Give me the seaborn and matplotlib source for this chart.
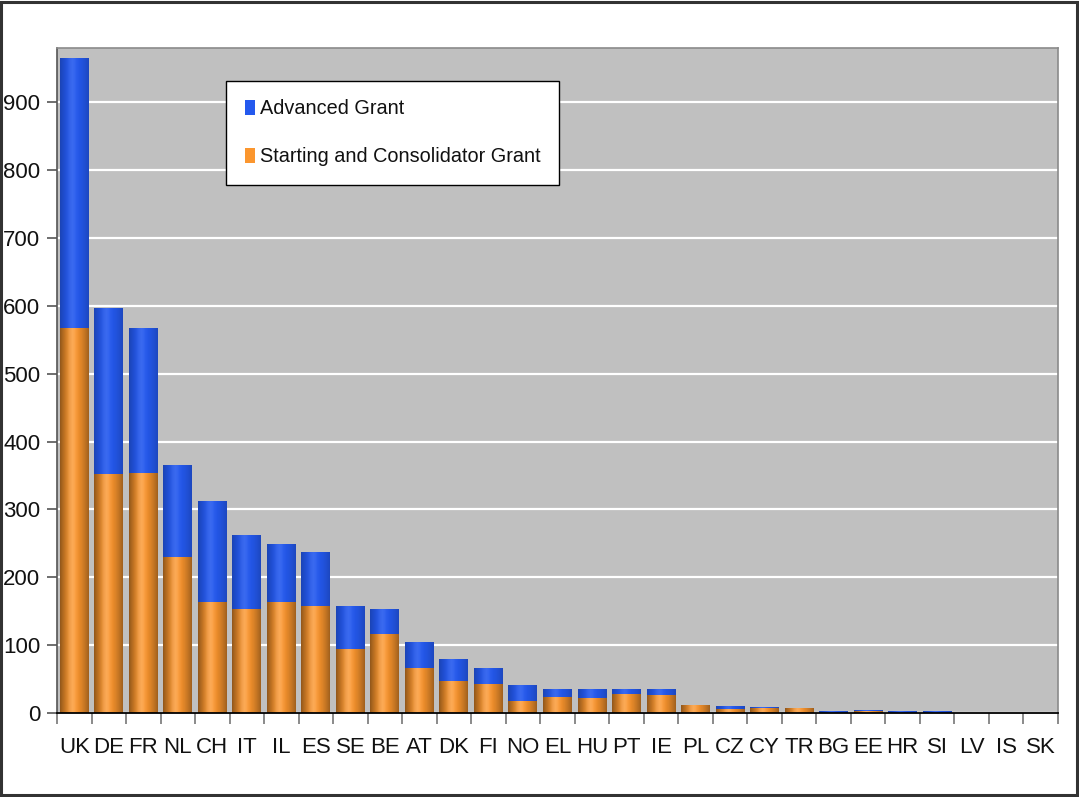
import numpy as np
import pandas as pd
import matplotlib
matplotlib.use("Agg")
import matplotlib.pyplot as plt
from matplotlib.patches import Patch, Rectangle
import seaborn as sns

countries = ["UK", "DE", "FR", "NL", "CH", "IT", "IL", "ES", "SE", "BE", "AT", "DK", "FI", "NO",
             "EL", "HU", "PT", "IE", "PL", "CZ", "CY", "TR", "BG", "EE", "HR", "SI", "LV", "IS", "SK"]
starting_consolidator = [567, 352, 354, 230, 164, 153, 164, 157, 94, 116, 67, 47, 43, 17,
                         24, 22, 28, 27, 12, 6, 7, 7, 0, 3, 0, 0, 0, 0, 0]
advanced = [398, 245, 214, 136, 149, 109, 85, 80, 64, 38, 38, 33, 23, 24,
            12, 14, 8, 9, 0, 4, 2, 0, 3, 1, 3, 3, 0, 0, 0]
yticks = [0, 100, 200, 300, 400, 500, 600, 700, 800, 900]

BLUE = "#2459EE"
ORANGE = "#FB962E"

df = pd.DataFrame({
    "country": countries,
    "start": starting_consolidator,
    "total": np.array(starting_consolidator) + np.array(advanced),
})

sns.set_style("white")
plt.rcParams["font.family"] = ["Liberation Sans", "DejaVu Sans"]

fig = plt.figure(figsize=(10.79, 7.97), dpi=100)
ax = fig.add_axes([57 / 1079, 1 - 713 / 797, (1058 - 57) / 1079, (713 - 48) / 797])
ax.set_facecolor("#C0C0C0")

sns.barplot(data=df, x="country", y="total", color=BLUE, saturation=1, width=0.84,
            ax=ax, zorder=3, linewidth=0)
sns.barplot(data=df, x="country", y="start", color=ORANGE, saturation=1, width=0.84,
            ax=ax, zorder=3, linewidth=0)

# cylindrical shading on bars
n = 64
t = np.linspace(0, 1, n)
alpha = np.where(t < 0.45, 0.24 * (1 - t / 0.45) ** 1.6, 0.20 * ((t - 0.45) / 0.55) ** 1.8)
shade = np.zeros((1, n, 4))
shade[..., 3] = alpha
hl = np.zeros((1, n, 4))
hl[..., :3] = 1.0
hl[..., 3] = 0.10 * np.exp(-((t - 0.42) / 0.15) ** 2)
for p in list(ax.patches):
    h = p.get_height()
    if h <= 0:
        continue
    x0 = p.get_x()
    w = p.get_width()
    y0 = p.get_y()
    for img in (shade, hl):
        im = ax.imshow(img, extent=[x0, x0 + w, y0, y0 + h], aspect="auto",
                       interpolation="bilinear", zorder=4)
        im.set_clip_path(p)

ax.set_xlim(-0.5, len(countries) - 0.5)
ax.set_ylim(0, 980)
ax.set_yticks(yticks)
ax.grid(axis="y", color="white", linewidth=1.6, zorder=1)
ax.grid(axis="x", visible=False)
ax.set_axisbelow(True)
ax.set_xlabel("")
ax.set_ylabel("")

ax.tick_params(axis="y", which="major", direction="out", length=7, width=1.2, color="#555555",
               labelsize=16, pad=5, left=True, labelcolor="#111111")
ax.tick_params(axis="x", which="major", length=0, labelsize=16, pad=17, labelcolor="#111111")
ax.set_xticks(np.arange(-0.5, len(countries) + 0.5, 1), minor=True)
ax.tick_params(axis="x", which="minor", direction="out", length=8, width=1.2, color="#777777",
               bottom=True)

for s in ["top", "right"]:
    ax.spines[s].set_visible(True)
    ax.spines[s].set_color("#8a8a8a")
    ax.spines[s].set_linewidth(1.2)
ax.spines["left"].set_color("#555555")
ax.spines["left"].set_linewidth(1.2)
ax.spines["bottom"].set_color("black")
ax.spines["bottom"].set_linewidth(1.3)
for s in ax.spines.values():
    s.set_zorder(6)

handles = [Patch(facecolor=BLUE, edgecolor="none", label="Advanced Grant"),
           Patch(facecolor=ORANGE, edgecolor="none", label="Starting and Consolidator Grant")]
leg = ax.legend(handles=handles, loc="upper left", bbox_to_anchor=(0.169, 0.951),
                frameon=True, fancybox=False, shadow=False, fontsize=14.3, framealpha=1,
                handlelength=0.5, handleheight=0.75, handletextpad=0.25,
                labelspacing=1.45, borderpad=0.95, borderaxespad=0, labelcolor="#111111")
leg.get_frame().set_edgecolor("black")
leg.get_frame().set_linewidth(1.0)
leg.get_frame().set_facecolor("white")
leg.set_zorder(10)

# figure border
fig.patches.append(Rectangle((0.001, 0.002), 0.997, 0.996, transform=fig.transFigure,
                             fill=False, edgecolor="#333333", linewidth=2.2))

fig.savefig("out.png", dpi=100, facecolor="white")
